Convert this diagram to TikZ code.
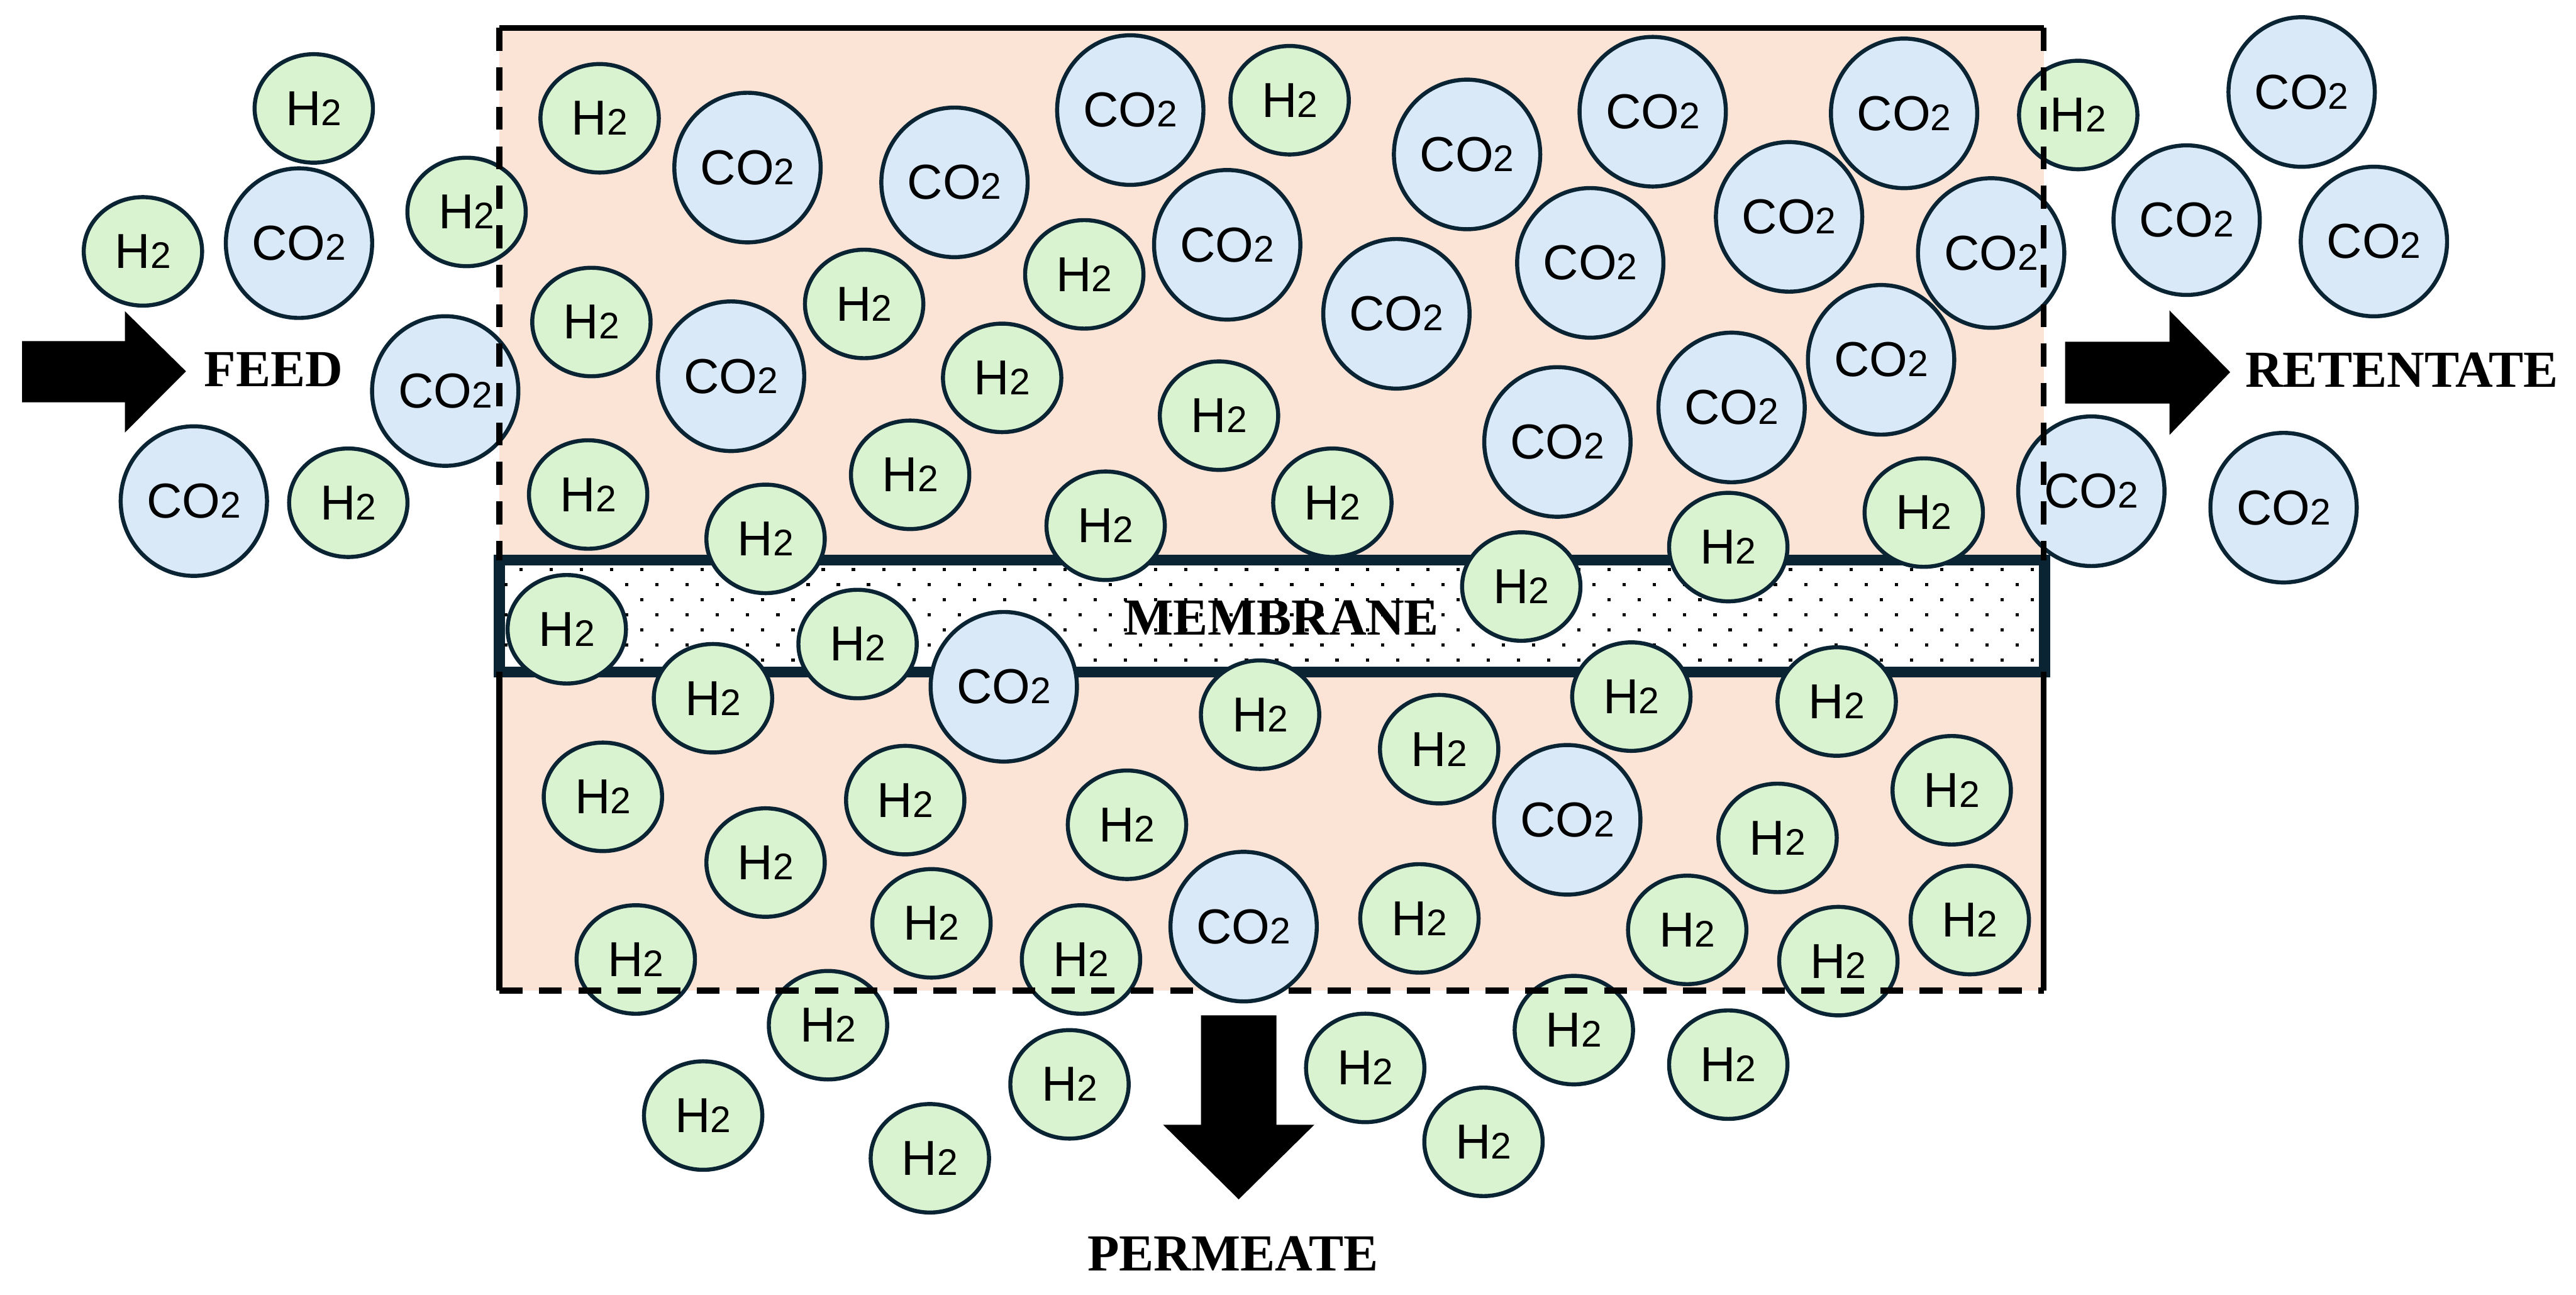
\documentclass[tikz,border=0pt]{standalone}
\usepackage{fontspec}
\setmainfont{Liberation Serif}
\setsansfont{Liberation Sans}
\usetikzlibrary{shapes.geometric}
\definecolor{feedbg}{HTML}{FBE3D6}
\definecolor{htwofill}{HTML}{D9F2D0}
\definecolor{cotwofill}{HTML}{DAE9F8}
\definecolor{rim}{HTML}{0A2433}
\newcommand{\subtwo}{{\fontsize{6.4}{7}\selectfont 2}}
\begin{document}
\begin{tikzpicture}[x=0.01cm, y=-0.01cm,
    gas/.style={ellipse, draw=rim, line width=0.7pt, inner sep=0pt, font=\sffamily\fontsize{8.5}{10}\selectfont},
    htwo/.style={gas, fill=htwofill, minimum width=0.72cm, minimum height=0.66cm},
    cotwo/.style={gas, fill=cotwofill, minimum width=0.89cm, minimum height=0.91cm},
    flowtext/.style={font=\bfseries\fontsize{9}{10}\selectfont, inner sep=0pt},
    wall/.style={line width=1.05pt},
    walldash/.style={wall, dash pattern=on 0.14cm off 0.1cm}]
      \useasboundingbox (0,0) rectangle (1568,788);
      % Module and membrane
      \fill[feedbg] (304,17) rectangle (1244,603);
      \filldraw[fill=white, draw=rim, line width=1.9pt] (304,341) rectangle (1244.5,409);
      \foreach \j in {0,...,6}
        \foreach \k in {0,...,50}
          \fill ({317.1+18.4*\k-9.2*mod(\j,2)-1},{348.6+9.2*\j-1}) rectangle ++(2,-2);
      \node[flowtext] (membrane) at (780,376) {MEMBRANE};
      % Feed side, outside
      \node[htwo] (h1) at (191,66) {H\subtwo};
      \node[htwo] (h2) at (87,153) {H\subtwo};
      \node[cotwo] (c1) at (182,148) {CO\subtwo};
      \node[htwo] (h3) at (284,129) {H\subtwo};
      \node[cotwo] (c2) at (271,238) {CO\subtwo};
      \node[cotwo] (c3) at (118,305) {CO\subtwo};
      \node[htwo] (h4) at (212,306) {H\subtwo};
      % Feed side, inside
      \node[htwo] (h5) at (365,72) {H\subtwo};
      \node[cotwo] (c4) at (455,102) {CO\subtwo};
      \node[cotwo] (c5) at (581,111) {CO\subtwo};
      \node[cotwo] (c6) at (688,67) {CO\subtwo};
      \node[htwo] (h6) at (785,61) {H\subtwo};
      \node[cotwo] (c7) at (893,94) {CO\subtwo};
      \node[cotwo] (c8) at (1006,68) {CO\subtwo};
      \node[cotwo] (c9) at (1159,69) {CO\subtwo};
      \node[htwo] (h7) at (1265,70) {H\subtwo};
      \node[cotwo] (c10) at (1089,132) {CO\subtwo};
      \node[cotwo] (c11) at (1212,154) {CO\subtwo};
      \node[cotwo] (c12) at (968,160) {CO\subtwo};
      \node[cotwo] (c13) at (747,149) {CO\subtwo};
      \node[htwo] (h8) at (660,167) {H\subtwo};
      \node[htwo] (h9) at (526,185) {H\subtwo};
      \node[htwo] (h10) at (360,196) {H\subtwo};
      \node[cotwo] (c14) at (445,229) {CO\subtwo};
      \node[htwo] (h11) at (610,230) {H\subtwo};
      \node[cotwo] (c15) at (850,191) {CO\subtwo};
      \node[htwo] (h12) at (742,253) {H\subtwo};
      \node[cotwo] (c16) at (948,269) {CO\subtwo};
      \node[cotwo] (c17) at (1054,248) {CO\subtwo};
      \node[cotwo] (c18) at (1145,219) {CO\subtwo};
      \node[htwo] (h13) at (358,301) {H\subtwo};
      \node[htwo] (h14) at (554,289) {H\subtwo};
      \node[htwo] (h15) at (466,328) {H\subtwo};
      \node[htwo] (h16) at (673,320) {H\subtwo};
      \node[htwo] (h17) at (811,306) {H\subtwo};
      \node[htwo] (h18) at (1171,312) {H\subtwo};
      \node[htwo] (h19) at (1052,333) {H\subtwo};
      \node[htwo] (h20) at (926,357) {H\subtwo};
      \node[cotwo] (c19) at (1273,299) {CO\subtwo};
      % Retentate side
      \node[cotwo] (c20) at (1401,56) {CO\subtwo};
      \node[cotwo] (c21) at (1331,134) {CO\subtwo};
      \node[cotwo] (c22) at (1445,147) {CO\subtwo};
      \node[cotwo] (c23) at (1390,309) {CO\subtwo};
      % In the membrane
      \node[htwo] (h21) at (345,383) {H\subtwo};
      \node[htwo] (h22) at (522,392) {H\subtwo};
      \node[cotwo] (c24) at (611,418) {CO\subtwo};
      \node[htwo] (h23) at (434,425) {H\subtwo};
      \node[htwo] (h24) at (767,435) {H\subtwo};
      \node[htwo] (h25) at (993,424) {H\subtwo};
      \node[htwo] (h26) at (1118,427) {H\subtwo};
      % Permeate side, inside
      \node[htwo] (h27) at (367,485) {H\subtwo};
      \node[htwo] (h28) at (551,487) {H\subtwo};
      \node[htwo] (h29) at (466,525) {H\subtwo};
      \node[htwo] (h30) at (686,502) {H\subtwo};
      \node[htwo] (h31) at (876,456) {H\subtwo};
      \node[cotwo] (c25) at (954,499) {CO\subtwo};
      \node[htwo] (h32) at (1082,510) {H\subtwo};
      \node[htwo] (h33) at (1188,481) {H\subtwo};
      \node[htwo] (h34) at (567,562) {H\subtwo};
      \node[htwo] (h35) at (387,584) {H\subtwo};
      \node[htwo] (h36) at (658,584) {H\subtwo};
      \node[htwo] (h37) at (864,559) {H\subtwo};
      \node[htwo] (h38) at (1027,566) {H\subtwo};
      \node[htwo] (h39) at (1119,585) {H\subtwo};
      \node[htwo] (h40) at (1199,560) {H\subtwo};
      % Permeate side, outside
      \node[htwo] (h41) at (504,624) {H\subtwo};
      \node[htwo] (h42) at (428,679) {H\subtwo};
      \node[htwo] (h43) at (651,660) {H\subtwo};
      \node[htwo] (h44) at (566,705) {H\subtwo};
      \node[htwo] (h45) at (831,650) {H\subtwo};
      \node[htwo] (h46) at (903,695) {H\subtwo};
      \node[htwo] (h47) at (958,627) {H\subtwo};
      \node[htwo] (h48) at (1052,648) {H\subtwo};
      % Module walls
      \draw[wall] (304,17) -- (1244,17);
      \draw[walldash] (304,17) -- (304,341);
      \draw[wall] (304,409) -- (304,603);
      \draw[walldash] (1244,17) -- (1244,341);
      \draw[wall] (1244,409) -- (1244,603);
      \draw[walldash] (304,603) -- (1244,603);
      \node[cotwo] (c26) at (757,564) {CO\subtwo};
      % Flow arrows
      \fill (13.4,207.6) -- (76,207.6) -- (76,189.4) -- (113.2,226) -- (76,263.3) -- (76,244.9) -- (13.4,244.9) -- cycle;
      \fill (1257,208) -- (1320.6,208) -- (1320.6,189) -- (1357.5,226.5) -- (1320.6,264.7) -- (1320.6,245.6) -- (1257,245.6) -- cycle;
      \fill (731,618) -- (777,618) -- (777,684.6) -- (800,684.6) -- (754,730) -- (708,684.6) -- (731,684.6) -- cycle;
      \node[flowtext] (feed) at (166.5,225) {FEED};
      \node[flowtext] (retentate) at (1462,225) {RETENTATE};
      \node[flowtext] (permeate) at (750.5,763) {PERMEATE};
    \end{tikzpicture}
\end{document}
